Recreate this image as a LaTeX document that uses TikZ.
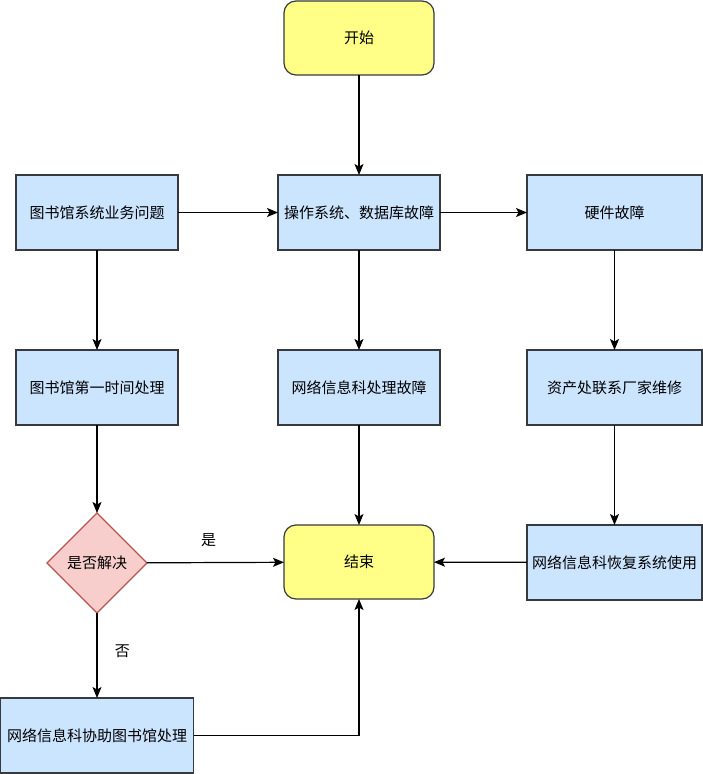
\documentclass[tikz,border=0pt]{standalone}
\usepackage{fontspec}
\newfontfamily\cjk{Noto Sans CJK SC}
\usepackage{tikz}
\usetikzlibrary{shapes.geometric, arrows.meta, positioning}
\definecolor{termfill}{HTML}{FFFF88}
\definecolor{stepfill}{HTML}{CCE5FF}
\definecolor{boxline}{HTML}{36393D}
\definecolor{askfill}{HTML}{F8CECC}
\definecolor{askline}{HTML}{B85450}
\tikzset{
    flowbox/.style={draw=boxline, rectangle, line width=1.2pt, inner sep=0pt, outer sep=0pt, align=center, font=\cjk\fontsize{15}{18}\selectfont},
    termbox/.style={flowbox, fill=termfill, rounded corners=12pt, minimum width=150pt, minimum height=74pt},
    stepbox/.style={flowbox, fill=stepfill, minimum width=162pt, minimum height=75pt},
    widebox/.style={stepbox, minimum width=175pt},
    askbox/.style={flowbox, diamond, aspect=1, fill=askfill, draw=askline, minimum width=100pt, minimum height=100pt},
    flowarrow/.style={-{Stealth[length=11pt, width=9pt, inset=2.5pt]}, line width=1.2pt, draw=black},
    edgelabel/.style={font=\cjk\fontsize{15}{18}\selectfont},
}
\begin{document}
\begin{tikzpicture}[node distance=100pt]
    \useasboundingbox (0pt,0pt) rectangle (703pt,-774pt);
    % Entry and fault types
    \node[termbox] (start) at (359pt,-38pt) {开始};
    \node[stepbox, below=100pt of start] (osdb) {操作系统、数据库故障};
    \node[stepbox, left=100pt of osdb] (libbiz) {图书馆系统业务问题};
    \node[widebox, right=87pt of osdb] (hard) {硬件故障};
    % First handling
    \node[stepbox, below=100pt of libbiz] (libfirst) {图书馆第一时间处理};
    \node[stepbox, below=100pt of osdb] (netfix) {网络信息科处理故障};
    \node[widebox, below=100pt of hard] (vendor) {资产处联系厂家维修};
    % Decision and end
    \node[askbox, below=88pt of libfirst] (solved) {是否解决};
    \node[termbox, below=100pt of netfix] (finish) {结束};
    \node[widebox, below=100pt of vendor] (restore) {网络信息科恢复系统使用};
    \node[stepbox, minimum width=193pt, below=85pt of solved] (assist) {网络信息科协助图书馆处理};

    \draw[flowarrow] (start) -- (osdb);
    \draw[flowarrow] (libbiz) -- (osdb);
    \draw[flowarrow] (osdb) -- (hard);
    \draw[flowarrow] (libbiz) -- (libfirst);
    \draw[flowarrow] (osdb) -- (netfix);
    \draw[flowarrow] (hard) -- (vendor);
    \draw[flowarrow] (libfirst) -- (solved);
    \draw[flowarrow] (netfix) -- (finish);
    \draw[flowarrow] (vendor) -- (restore);
    \draw[flowarrow] (restore) -- (finish);
    \draw[flowarrow] (solved) -- node[edgelabel, pos=0.45, above=12pt] (yes) {是} (finish);
    \draw[flowarrow] (solved) -- node[edgelabel, pos=0.45, right=14pt] (no) {否} (assist);
    \draw[flowarrow] (assist.east) -| (finish.south);
\end{tikzpicture}
\end{document}
